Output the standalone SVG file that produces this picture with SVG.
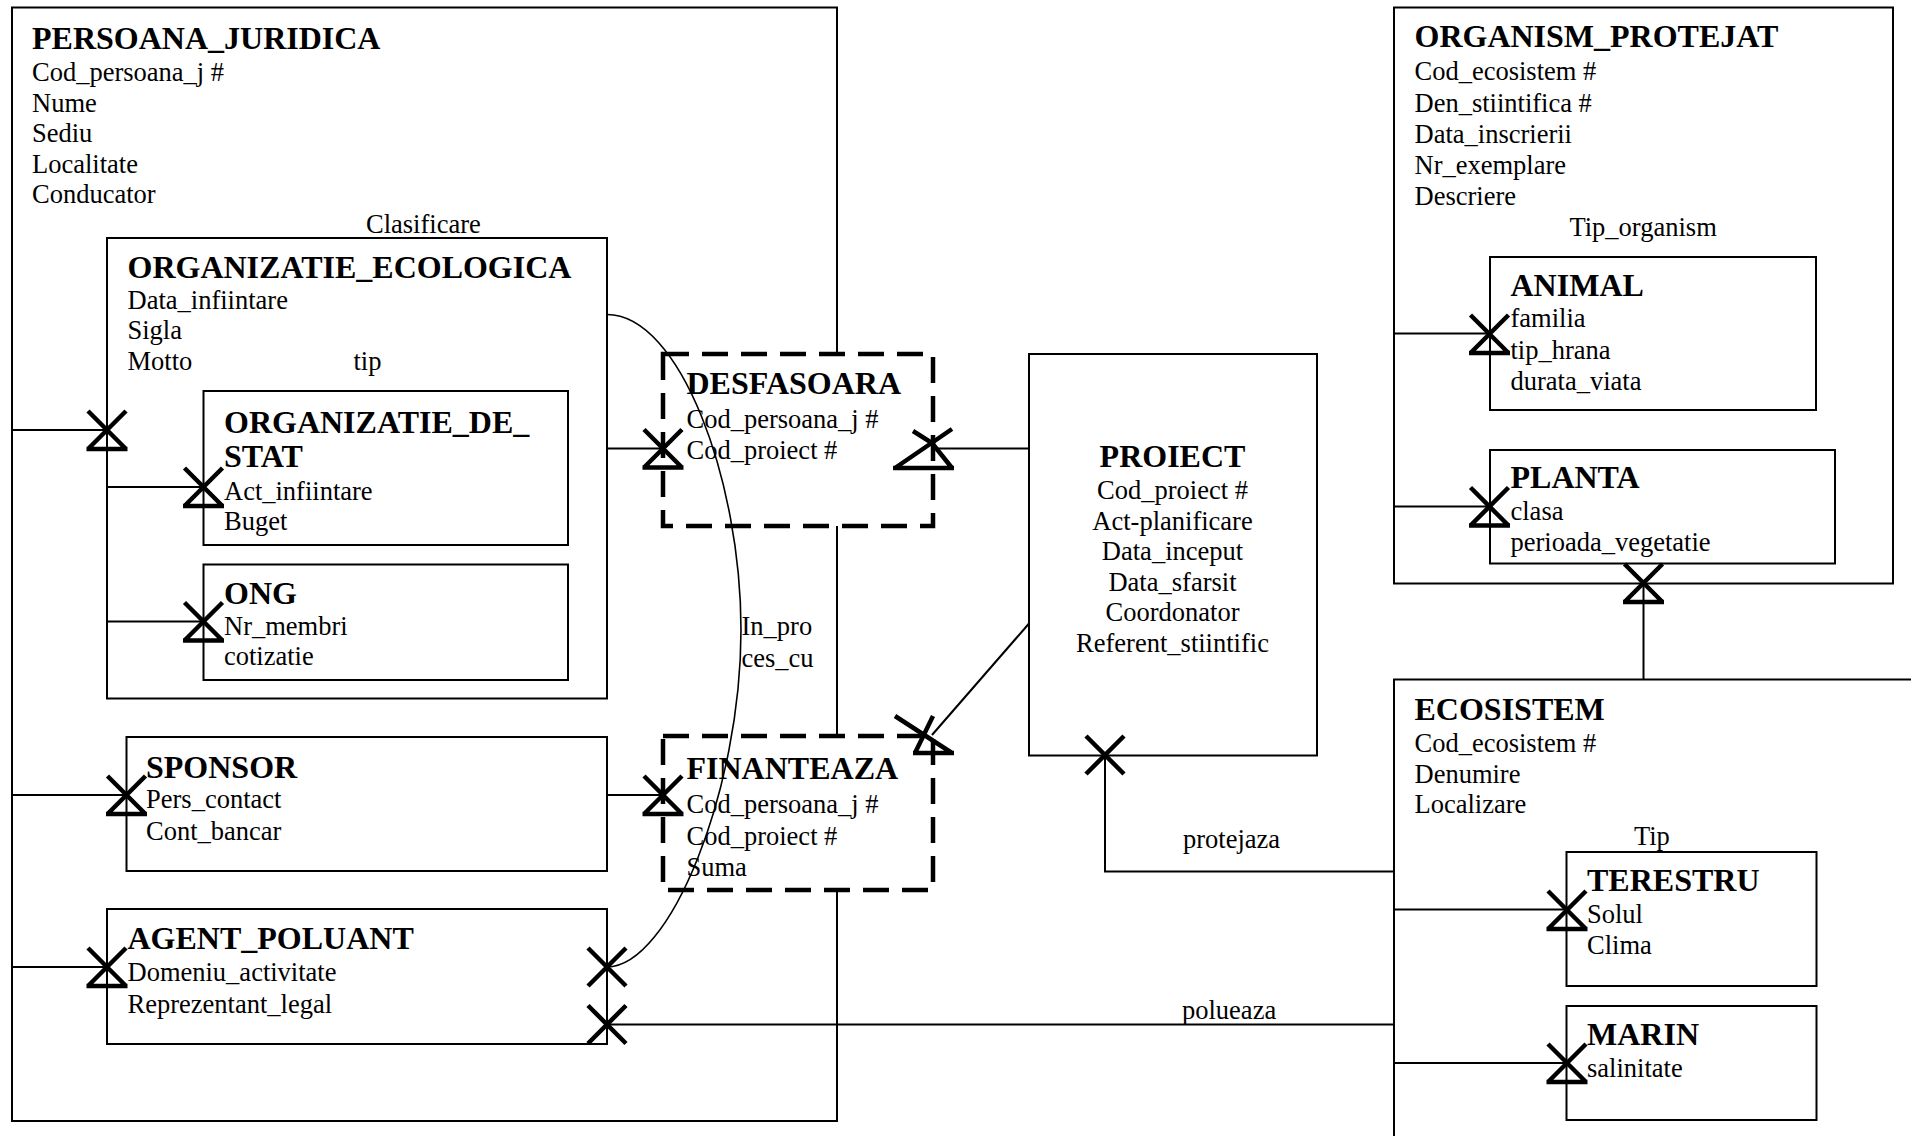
<svg xmlns="http://www.w3.org/2000/svg" width="1911" height="1136" viewBox="0 0 1911 1136">
<style>
.box{fill:none;stroke:#000;stroke-width:2}
.wbox{fill:#fff;stroke:#000;stroke-width:2}
.dash{fill:#fff;stroke:#000;stroke-width:4.5;stroke-dasharray:26 13}
.ln{fill:none;stroke:#000;stroke-width:2}
.mk{fill:none;stroke:#000;stroke-width:4.5}
text{font-family:"Liberation Serif","Times New Roman",serif;font-size:26.5px;fill:#000}
.t{font-weight:bold;font-size:32px}
.c{text-anchor:middle}
</style>
<defs>
<g id="xbar"><path class="mk" d="M-19,-19 L19,19 M19,-19 L-19,19 M-20.5,19 L20.5,19"/></g>
<g id="xonly"><path class="mk" d="M-19,-19 L19,19 M19,-19 L-19,19"/></g>
</defs>
<rect width="1911" height="1136" fill="#fff"/>

<g id="persoana_juridica">
<rect class="box" x="12" y="7.5" width="825" height="1113.5"/>
<text class="t" x="32" y="48.5">PERSOANA_JURIDICA</text>
<text x="32" y="81">Cod_persoana_j #</text>
<text x="32" y="111.5">Nume</text>
<text x="32" y="142">Sediu</text>
<text x="32" y="172.5">Localitate</text>
<text x="32" y="203">Conducator</text>
<text x="366" y="233">Clasificare</text>
</g>

<g id="organizatie_ecologica">
<rect class="box" x="107" y="238" width="500" height="460.5"/>
<text class="t" x="127.5" y="278">ORGANIZATIE_ECOLOGICA</text>
<text x="127.5" y="308.5">Data_infiintare</text>
<text x="127.5" y="339">Sigla</text>
<text x="127.5" y="369.5">Motto</text>
<text x="353.5" y="369.5">tip</text>
</g>

<g id="organizatie_de_stat">
<rect class="box" x="203.5" y="391" width="364.5" height="154"/>
<text class="t" x="224" y="433">ORGANIZATIE_DE_</text>
<text class="t" x="224" y="467">STAT</text>
<text x="224" y="500">Act_infiintare</text>
<text x="224" y="530">Buget</text>
</g>

<g id="ong">
<rect class="box" x="203.5" y="564.5" width="364.5" height="115.5"/>
<text class="t" x="224" y="604">ONG</text>
<text x="224" y="635">Nr_membri</text>
<text x="224" y="665">cotizatie</text>
</g>

<g id="sponsor">
<rect class="box" x="126.5" y="737" width="480.5" height="134"/>
<text class="t" x="146" y="777.5">SPONSOR</text>
<text x="146" y="808">Pers_contact</text>
<text x="146" y="840">Cont_bancar</text>
</g>

<g id="agent_poluant">
<rect class="box" x="107" y="909" width="500" height="135"/>
<text class="t" x="127.5" y="949">AGENT_POLUANT</text>
<text x="127.5" y="981">Domeniu_activitate</text>
<text x="127.5" y="1012.5">Reprezentant_legal</text>
</g>

<g id="desfasoara">
<rect class="dash" x="663" y="354" width="270" height="172"/>
<text class="t" x="686.5" y="394">DESFASOARA</text>
<text x="686.5" y="428">Cod_persoana_j #</text>
<text x="686.5" y="459">Cod_proiect #</text>
</g>

<g id="finanteaza">
<rect class="dash" x="663" y="736" width="270" height="154"/>
<text class="t" x="686.5" y="779">FINANTEAZA</text>
<text x="686.5" y="813">Cod_persoana_j #</text>
<text x="686.5" y="845">Cod_proiect #</text>
<text x="686.5" y="876">Suma</text>
</g>

<g id="proiect">
<rect class="box" x="1029" y="354" width="288" height="401.5"/>
<text class="t c" x="1172.5" y="466.5">PROIECT</text>
<text class="c" x="1172.5" y="499">Cod_proiect #</text>
<text class="c" x="1172.5" y="529.5">Act-planificare</text>
<text class="c" x="1172.5" y="560">Data_inceput</text>
<text class="c" x="1172.5" y="590.5">Data_sfarsit</text>
<text class="c" x="1172.5" y="621">Coordonator</text>
<text class="c" x="1172.5" y="651.5">Referent_stiintific</text>
</g>

<g id="organism_protejat">
<rect class="box" x="1394" y="7.5" width="499" height="576"/>
<text class="t" x="1414.5" y="46.5">ORGANISM_PROTEJAT</text>
<text x="1414.5" y="80">Cod_ecosistem #</text>
<text x="1414.5" y="111.5">Den_stiintifica #</text>
<text x="1414.5" y="143">Data_inscrierii</text>
<text x="1414.5" y="174">Nr_exemplare</text>
<text x="1414.5" y="205">Descriere</text>
<text x="1569.5" y="235.5">Tip_organism</text>
</g>

<g id="animal">
<rect class="box" x="1490" y="257" width="326" height="153"/>
<text class="t" x="1510.5" y="295.5">ANIMAL</text>
<text x="1510.5" y="327">familia</text>
<text x="1510.5" y="358.5">tip_hrana</text>
<text x="1510.5" y="389.5">durata_viata</text>
</g>

<g id="planta">
<rect class="box" x="1490" y="450" width="345" height="113.5"/>
<text class="t" x="1510.5" y="488">PLANTA</text>
<text x="1510.5" y="519.5">clasa</text>
<text x="1510.5" y="551">perioada_vegetatie</text>
</g>

<g id="ecosistem">
<rect class="box" x="1394" y="679.5" width="600" height="600"/>
<text class="t" x="1414.5" y="719.5">ECOSISTEM</text>
<text x="1414.5" y="752">Cod_ecosistem #</text>
<text x="1414.5" y="783">Denumire</text>
<text x="1414.5" y="813">Localizare</text>
<text x="1634" y="844.5">Tip</text>
</g>

<g id="terestru">
<rect class="box" x="1566.5" y="852" width="250" height="134"/>
<text class="t" x="1587" y="890.5">TERESTRU</text>
<text x="1587" y="923">Solul</text>
<text x="1587" y="954">Clima</text>
</g>

<g id="marin">
<rect class="box" x="1566.5" y="1006" width="250" height="114"/>
<text class="t" x="1587" y="1044.5">MARIN</text>
<text x="1587" y="1077">salinitate</text>
</g>

<g id="connectors">
<path class="ln" d="M12,430 H107"/>
<path class="ln" d="M107,487 H203.5"/>
<path class="ln" d="M107,621.5 H203.5"/>
<path class="ln" d="M12,795 H126.5"/>
<path class="ln" d="M12,967 H107"/>
<path class="ln" d="M607,448.5 H663"/>
<path class="ln" d="M607,795 H663"/>
<path class="ln" d="M932,448.5 H1029"/>
<path class="ln" d="M1029,623.5 L932,735"/>
<path class="ln" d="M1105,755.5 V871.5 H1394"/>
<path class="ln" d="M607,1024.5 H1394"/>
<path class="ln" d="M1643.5,583.5 V679.5"/>
<path class="ln" d="M1394,333.5 H1490"/>
<path class="ln" d="M1394,506.5 H1490"/>
<path class="ln" d="M1394,909.5 H1566.5"/>
<path class="ln" d="M1394,1063 H1566.5"/>
<path fill="none" stroke="#000" stroke-width="1.6" d="M607,314.5 C680,314.5 741,480 741,630 C741,790 670,967 607,967"/>
<text x="741.5" y="635">In_pro</text>
<text x="741.5" y="667">ces_cu</text>
<text x="1183" y="848">protejaza</text>
<text x="1182" y="1019">polueaza</text>
<use href="#xbar" x="107" y="430"/>
<use href="#xbar" x="203.5" y="487"/>
<use href="#xbar" x="203.5" y="621.5"/>
<use href="#xbar" x="126.5" y="795"/>
<use href="#xbar" x="107" y="967"/>
<use href="#xbar" x="663" y="448.5"/>
<use href="#xbar" x="663" y="795"/>
<use href="#xbar" x="1489.5" y="334"/>
<use href="#xbar" x="1489.5" y="506.5"/>
<use href="#xbar" x="1567" y="910"/>
<use href="#xbar" x="1567" y="1063"/>
<use href="#xbar" x="1643.5" y="583"/>
<use href="#xonly" x="607" y="967"/>
<use href="#xonly" x="607" y="1024.5"/>
<use href="#xonly" x="1105" y="755"/>
<path class="mk" d="M952,429 L895,468 M913,431 L932,443 L952,468 M893,468 H954"/>
<path class="mk" d="M895,716 L952,753 M933,716 L915,753 M913,753 H954"/>
</g>
</svg>
